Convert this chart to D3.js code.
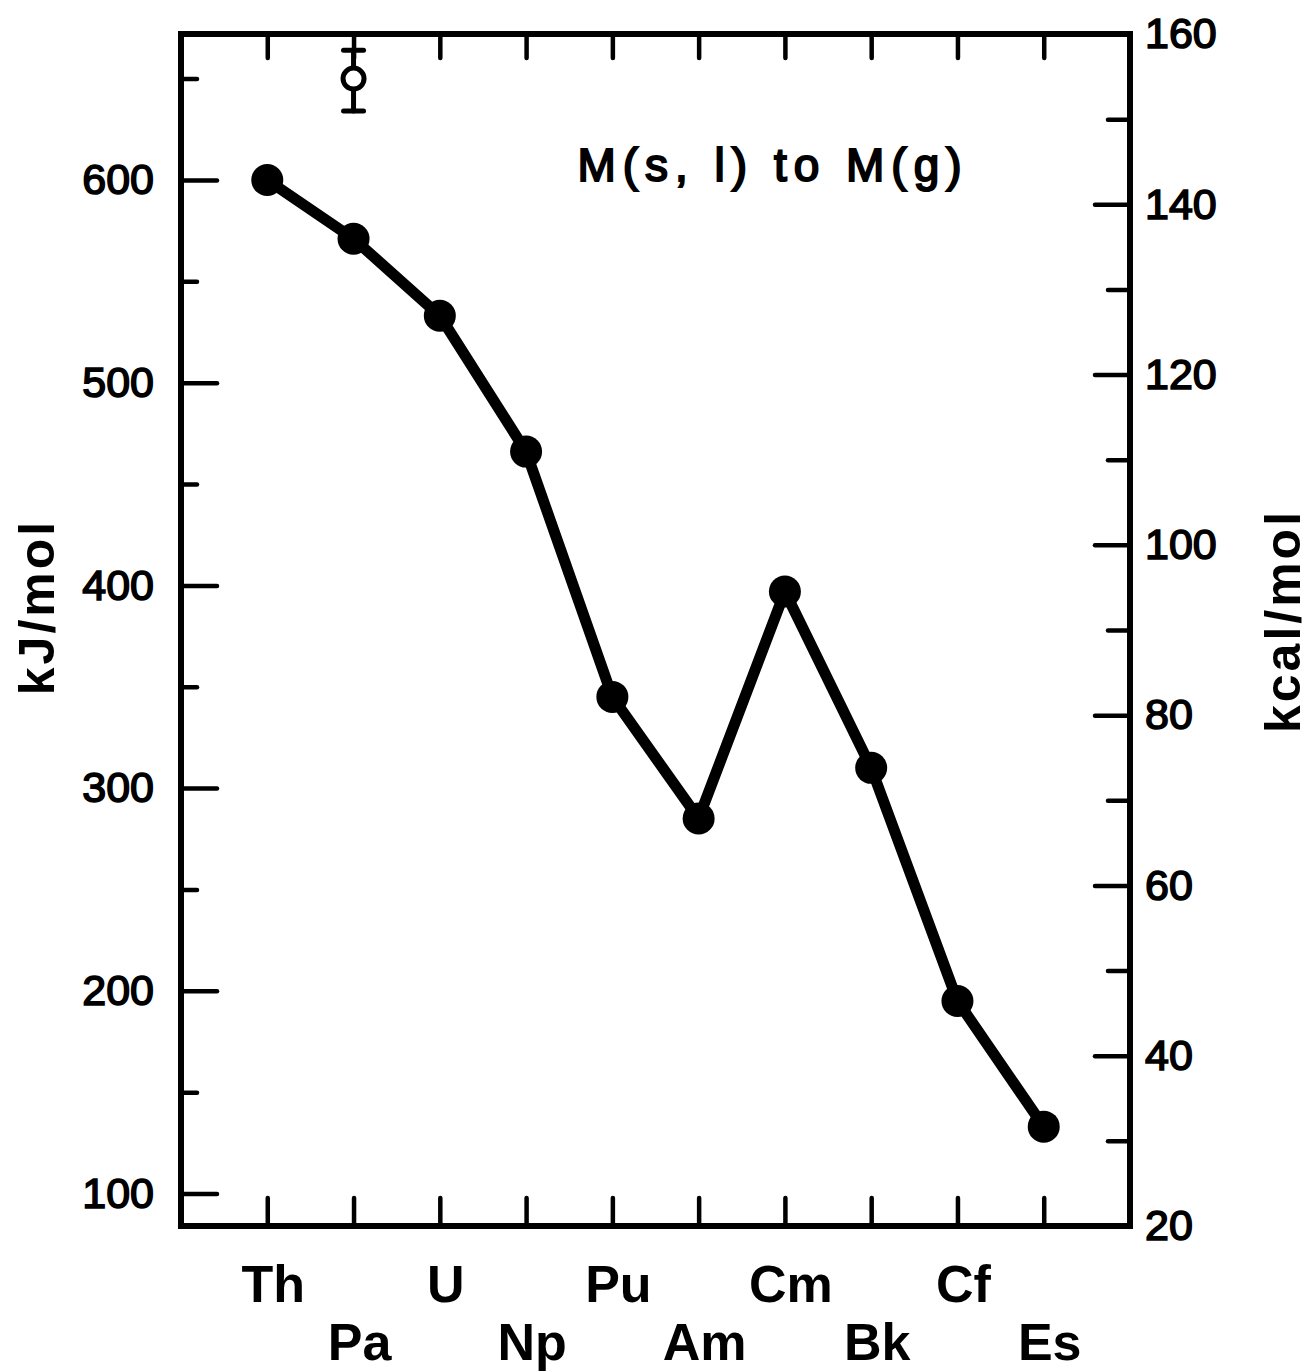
<!DOCTYPE html>
<html>
<head>
<meta charset="utf-8">
<script src="https://cdn.jsdelivr.net/npm/d3@7"></script>
<style>
  body { margin: 0; background: #fff; }
  svg text { font-family: "Liberation Sans", Arial, sans-serif; fill: #000; }
</style>
</head>
<body>
<div id="viz"></div>
<script>
// enthalpy of sublimation, M(s,l) -> M(g)
var elements = ["Th", "Pa", "U", "Np", "Pu", "Am", "Cm", "Bk", "Cf", "Es"];
var kjValues = [600, 571, 533, 466, 345, 285, 397, 310, 195, 133];

// the open point with its error bar (Pa)
var openIndex = 1;
var openValue = 650;
var openLow = 634;
var openHigh = 664;

var kjMajor = [100, 200, 300, 400, 500, 600];
var kjMinor = [150, 250, 350, 450, 550, 650];
var kcalMajor = [20, 40, 60, 80, 100, 120, 140, 160];
var kcalMinor = [30, 50, 70, 90, 110, 130, 150];

var W = 1312, H = 1372;
var frame = { left: 181, right: 1130, top: 34, bottom: 1226 };

var svg = d3.select('#viz').append('svg')
  .attr('width', W).attr('height', H);

var x = d3.scaleLinear().domain([-1, 10]).range([frame.left, frame.right]);
var yKj = d3.scaleLinear().domain([84, 672]).range([frame.bottom, frame.top]);
var yKcal = d3.scaleLinear().domain([20, 160]).range([frame.bottom, frame.top]);

var idx = d3.range(elements.length);

function strip(g) {
  g.select('.domain').remove();
  g.selectAll('.tick line').attr('stroke', '#000').attr('stroke-width', 4.5)
    .attr('stroke-linecap', 'round');
}

// left axis
svg.append('g').attr('transform', 'translate(' + frame.left + ',0)')
  .call(d3.axisLeft(yKj).tickValues(kjMajor).tickSizeInner(-36).tickSizeOuter(0).tickPadding(27))
  .call(strip)
  .selectAll('text').attr('font-size', 43).attr('stroke', '#000').attr('stroke-width', 1.6);
svg.append('g').attr('transform', 'translate(' + frame.left + ',0)')
  .call(d3.axisLeft(yKj).tickValues(kjMinor).tickSizeInner(-16).tickSizeOuter(0).tickFormat(''))
  .call(strip);

// right axis
svg.append('g').attr('transform', 'translate(' + frame.right + ',0)')
  .call(d3.axisRight(yKcal).tickValues(kcalMajor).tickSizeInner(-35).tickSizeOuter(0).tickPadding(15))
  .call(strip)
  .selectAll('text').attr('font-size', 43).attr('stroke', '#000').attr('stroke-width', 1.6);
svg.append('g').attr('transform', 'translate(' + frame.right + ',0)')
  .call(d3.axisRight(yKcal).tickValues(kcalMinor).tickSizeInner(-22).tickSizeOuter(0).tickFormat(''))
  .call(strip);

// top and bottom ticks
svg.append('g').attr('transform', 'translate(0,' + frame.top + ')')
  .call(d3.axisTop(x).tickValues(idx).tickSizeInner(-24).tickSizeOuter(0).tickFormat(''))
  .call(strip);
svg.append('g').attr('transform', 'translate(0,' + frame.bottom + ')')
  .call(d3.axisBottom(x).tickValues(idx).tickSizeInner(-28).tickSizeOuter(0).tickFormat(''))
  .call(strip);

// frame
svg.append('rect')
  .attr('x', frame.left).attr('y', frame.top)
  .attr('width', frame.right - frame.left).attr('height', frame.bottom - frame.top)
  .attr('fill', 'none').attr('stroke', '#000').attr('stroke-width', 6);

// element labels, two staggered rows
svg.append('g').selectAll('text').data(elements).enter().append('text')
  .attr('x', function(d, i) { return x(i) + 6; })
  .attr('y', function(d, i) { return i % 2 === 0 ? 1302 : 1360; })
  .attr('text-anchor', 'middle')
  .attr('font-size', 52).attr('font-weight', 'bold')
  .text(function(d) { return d; });

// axis titles
svg.append('text')
  .attr('transform', 'translate(54,607) rotate(-90)')
  .attr('text-anchor', 'middle')
  .attr('font-size', 50).attr('font-weight', 'bold').attr('letter-spacing', 3)
  .text('kJ/mol');
svg.append('text')
  .attr('transform', 'translate(1300,621) rotate(-90)')
  .attr('text-anchor', 'middle')
  .attr('font-size', 50).attr('font-weight', 'bold').attr('letter-spacing', 3)
  .text('kcal/mol');

// annotation
svg.append('text')
  .attr('x', 773).attr('y', 181)
  .attr('text-anchor', 'middle')
  .attr('font-size', 46).attr('letter-spacing', 7)
  .attr('stroke', '#000').attr('stroke-width', 2)
  .text('M(s, l) to M(g)');

// line + dots
var line = d3.line()
  .x(function(d, i) { return x(i); })
  .y(function(d) { return yKj(d); });

svg.append('path').datum(kjValues)
  .attr('d', line)
  .attr('fill', 'none').attr('stroke', '#000')
  .attr('stroke-width', 11).attr('stroke-linejoin', 'round');

svg.append('g').selectAll('circle').data(kjValues).enter().append('circle')
  .attr('cx', function(d, i) { return x(i); })
  .attr('cy', function(d) { return yKj(d); })
  .attr('r', 16).attr('fill', '#000');

// open point with error bar
var ox = x(openIndex);
var eb = svg.append('g').attr('stroke', '#000').attr('stroke-width', 5).attr('stroke-linecap', 'round');
eb.append('line').attr('x1', ox).attr('x2', ox).attr('y1', yKj(openHigh)).attr('y2', yKj(openLow));
eb.append('line').attr('x1', ox - 10).attr('x2', ox + 10).attr('y1', yKj(openHigh)).attr('y2', yKj(openHigh));
eb.append('line').attr('x1', ox - 10).attr('x2', ox + 10).attr('y1', yKj(openLow)).attr('y2', yKj(openLow));
svg.append('circle')
  .attr('cx', ox).attr('cy', yKj(openValue)).attr('r', 10.5)
  .attr('fill', '#fff').attr('stroke', '#000').attr('stroke-width', 5);
</script>
</body>
</html>
